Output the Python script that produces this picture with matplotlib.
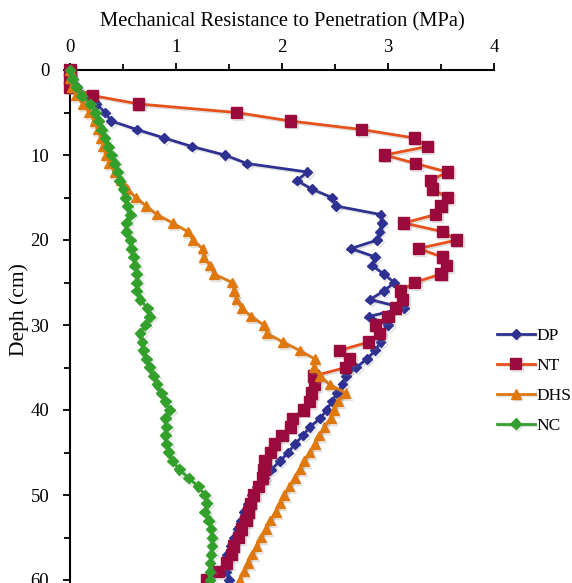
import numpy as np
import matplotlib
matplotlib.use('Agg')
import matplotlib.pyplot as plt
import matplotlib.patheffects as pe
from matplotlib.ticker import MultipleLocator

plt.rcParams['font.family'] = ['Liberation Serif', 'DejaVu Serif']

# depth (cm), one reading per cm
depth = list(range(0, 61))

dp = [0.00, 0.02, 0.07, 0.15, 0.25, 0.33, 0.39, 0.63, 0.89, 1.15,
      1.46, 1.67, 2.24, 2.14, 2.28, 2.47, 2.51, 2.93, 2.94, 2.92,
      2.90, 2.65, 2.88, 2.85, 2.96, 3.06, 2.96, 2.83, 3.15, 2.82,
      3.00, 2.93, 2.93, 2.88, 2.80, 2.70, 2.60, 2.57, 2.52, 2.47,
      2.42, 2.36, 2.26, 2.20, 2.12, 2.06, 1.98, 1.90, 1.83, 1.76,
      1.72, 1.68, 1.64, 1.61, 1.58, 1.55, 1.52, 1.48, 1.47, 1.47,
      1.50]

nt = [0.00, 0.00, 0.00, 0.21, 0.65, 1.57, 2.08, 2.75, 3.25, 3.37,
      2.97, 3.26, 3.56, 3.40, 3.42, 3.56, 3.50, 3.45, 3.15, 3.51,
      3.65, 3.29, 3.51, 3.55, 3.50, 3.25, 3.12, 3.14, 3.07, 3.00,
      2.88, 2.92, 2.82, 2.54, 2.64, 2.60, 2.30, 2.31, 2.28, 2.26,
      2.20, 2.10, 2.08, 2.00, 1.93, 1.89, 1.84, 1.83, 1.82, 1.78,
      1.73, 1.70, 1.68, 1.66, 1.62, 1.59, 1.54, 1.52, 1.48, 1.40,
      1.29]

dhs = [0.00, 0.00, 0.02, 0.06, 0.12, 0.18, 0.23, 0.26, 0.29, 0.31,
       0.34, 0.37, 0.42, 0.48, 0.54, 0.62, 0.72, 0.82, 0.97, 1.11,
       1.16, 1.25, 1.26, 1.32, 1.36, 1.53, 1.55, 1.57, 1.62, 1.71,
       1.83, 1.86, 2.01, 2.17, 2.31, 2.30, 2.36, 2.45, 2.60, 2.53,
       2.49, 2.46, 2.40, 2.35, 2.31, 2.26, 2.21, 2.17, 2.12, 2.07,
       2.02, 1.98, 1.94, 1.89, 1.85, 1.80, 1.76, 1.72, 1.68, 1.64,
       1.60]

nc = [0.00, 0.02, 0.06, 0.11, 0.19, 0.24, 0.27, 0.30, 0.33, 0.36,
      0.39, 0.42, 0.45, 0.47, 0.50, 0.52, 0.54, 0.57, 0.53, 0.53,
      0.57, 0.58, 0.60, 0.61, 0.63, 0.63, 0.63, 0.66, 0.73, 0.75,
      0.71, 0.66, 0.68, 0.69, 0.72, 0.75, 0.79, 0.82, 0.86, 0.90,
      0.94, 0.90, 0.91, 0.90, 0.91, 0.93, 0.97, 1.03, 1.12, 1.21,
      1.27, 1.29, 1.27, 1.31, 1.33, 1.34, 1.34, 1.33, 1.32, 1.32,
      1.32]

W, H = 572, 583
fig = plt.figure(figsize=(W / 100, H / 100), dpi=100)

# axes placed in pixel terms: x 0..4 -> 70..494 px, depth 0..70 -> 70..665 px
ax = fig.add_axes([70 / W, 1 - 665 / H, 424 / W, 595 / H])

shadow = [pe.SimpleLineShadow(offset=(1.2, -1.2), alpha=0.25, shadow_color='gray'), pe.Normal()]

series = [
    ('DP', dp, dict(color='#2e3192', marker='D', ms=5, mfc='#2e3192', mec='#2e3192')),
    ('NT', nt, dict(color='#e8501a', marker='s', ms=8, mfc='#9b0a3c', mec='#9b0a3c')),
    ('DHS', dhs, dict(color='#e07810', marker='^', ms=7, mfc='#e07810', mec='#e07810')),
    ('NC', nc, dict(color='#33a02c', marker='D', ms=5.5, mfc='#33a02c', mec='#33a02c')),
]

for name, vals, style in series:
    ax.plot(vals, depth, lw=2, label=name, clip_on=False,
            path_effects=shadow, zorder=3, **style)

ax.set_xlim(0, 4)
ax.set_ylim(70, 0)

ax.xaxis.tick_top()
ax.xaxis.set_label_position('top')
ax.xaxis.set_major_locator(MultipleLocator(1))
ax.xaxis.set_minor_locator(MultipleLocator(0.5))
ax.set_yticks(range(0, 61, 10))
ax.set_yticks(range(5, 61, 10), minor=True)

ax.tick_params(axis='both', which='major', direction='out', length=5, width=1.3,
               labelsize=13.5, colors='black')
ax.tick_params(axis='both', which='minor', direction='out', length=4, width=1.3)
ax.tick_params(axis='x', which='major', pad=5)
ax.tick_params(axis='y', which='major', pad=10)

for side in ('right', 'bottom'):
    ax.spines[side].set_visible(False)
for side in ('left', 'top'):
    ax.spines[side].set_linewidth(1.5)

ax.set_xlabel('Mechanical Resistance to Penetration (MPa)', fontsize=14.8, labelpad=9)
ax.set_ylabel('Deph (cm)', fontsize=15.5)
ax.yaxis.set_label_coords(-0.097, 0.597)

leg = fig.legend(loc='upper left', bbox_to_anchor=(481 / W, 1 - 312 / H),
                 frameon=False, fontsize=12.5, handlelength=2.2, handletextpad=0.1,
                 labelspacing=0.8)

fig.savefig('out.png', dpi=100)
